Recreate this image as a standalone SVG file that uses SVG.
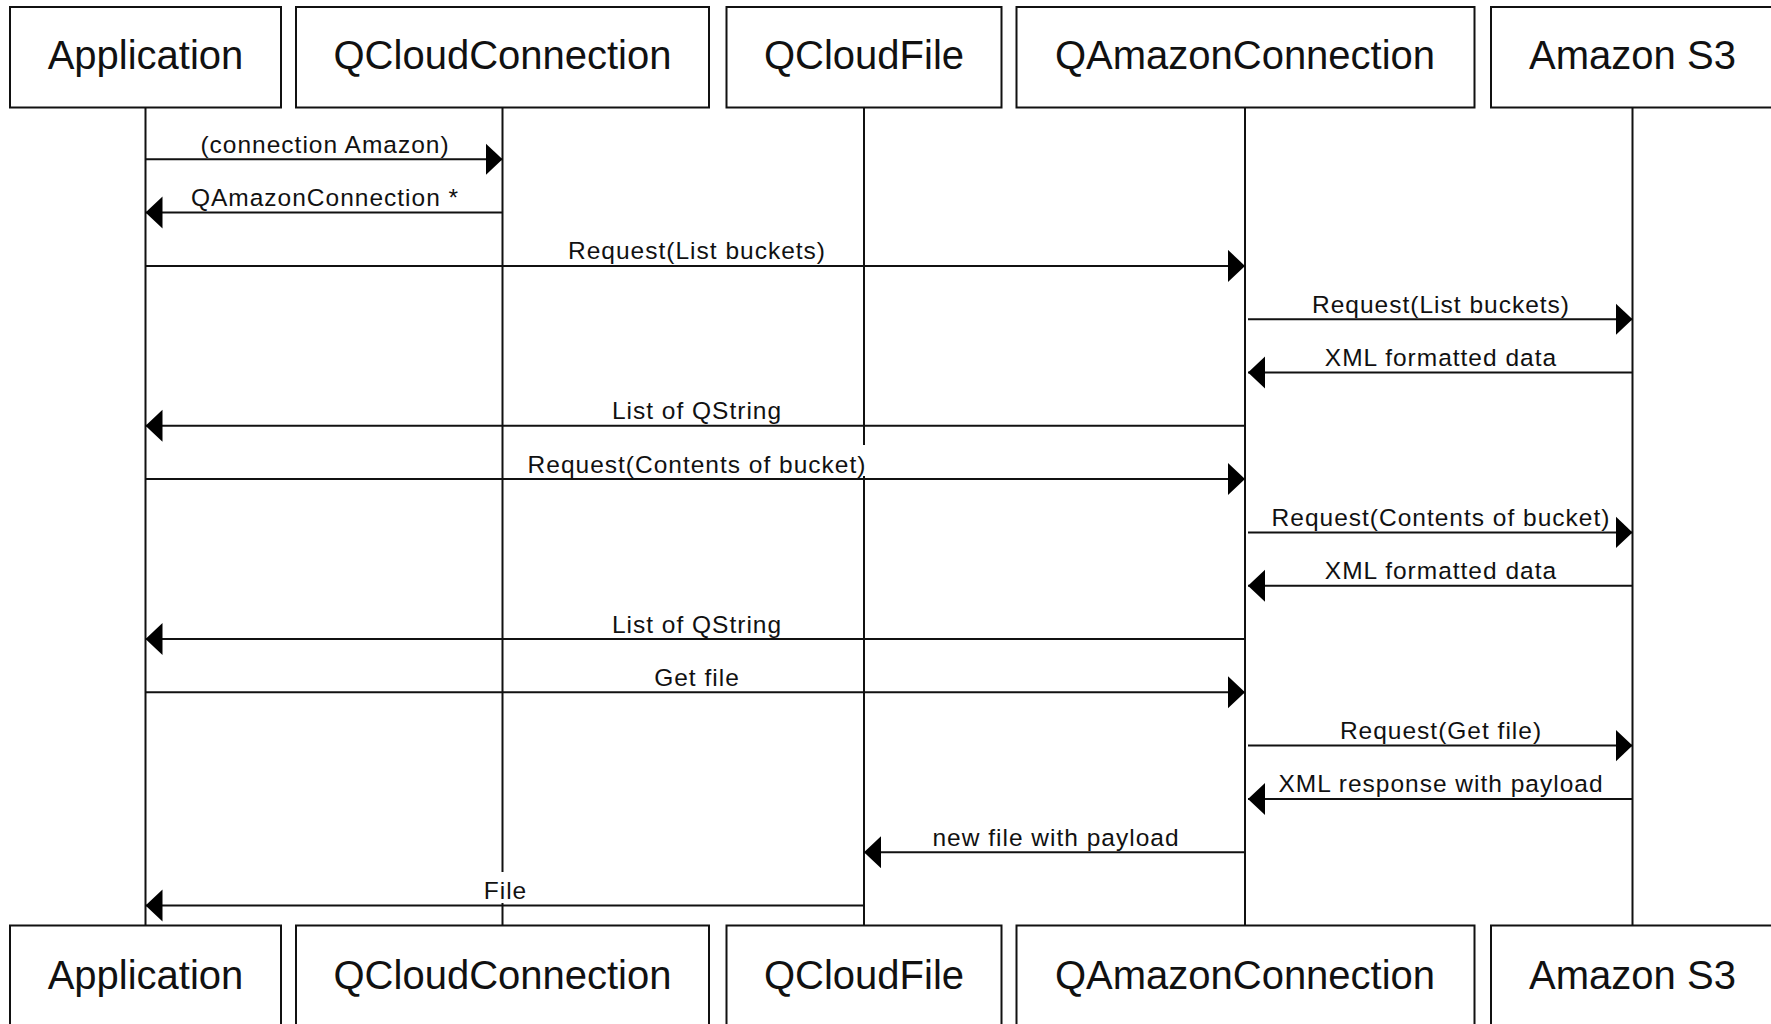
<svg xmlns="http://www.w3.org/2000/svg" width="1771" height="1024" viewBox="0 0 1771 1024">
<style>
.box{fill:#fff;stroke:#111;stroke-width:2}
.life{stroke:#111;stroke-width:2;fill:none}
.msg{stroke:#111;stroke-width:2;fill:none;marker-end:url(#ah)}
.title{font-family:"Liberation Sans",Arial,sans-serif;font-size:40px;fill:#111;text-anchor:middle}
.lbl{font-family:"Liberation Sans",Arial,sans-serif;font-size:24.5px;letter-spacing:1px;fill:#111;text-anchor:middle}
.bg{fill:#fff}
</style>
<defs>
<marker id="ah" markerUnits="userSpaceOnUse" markerWidth="18" markerHeight="34" refX="17" refY="16" orient="auto">
<path d="M0,0 L17,16 L0,32 z" fill="#000"/>
</marker>
</defs>
<rect width="1771" height="1024" fill="#fff"/>
<g id="application">
<line class="life" x1="145.5" y1="107.5" x2="145.5" y2="925.5"/>
<rect class="box" x="10" y="7" width="271" height="100.5"/>
<text class="title" x="145.5" y="69">Application</text>
<rect class="box" x="10" y="925.5" width="271" height="100.5"/>
<text class="title" x="145.5" y="988.5">Application</text>
</g>
<g id="qcloudconnection">
<line class="life" x1="502.5" y1="107.5" x2="502.5" y2="925.5"/>
<rect class="box" x="296" y="7" width="413" height="100.5"/>
<text class="title" x="502.5" y="69">QCloudConnection</text>
<rect class="box" x="296" y="925.5" width="413" height="100.5"/>
<text class="title" x="502.5" y="988.5">QCloudConnection</text>
</g>
<g id="qcloudfile">
<line class="life" x1="864" y1="107.5" x2="864" y2="925.5"/>
<rect class="box" x="726.5" y="7" width="275" height="100.5"/>
<text class="title" x="864" y="69">QCloudFile</text>
<rect class="box" x="726.5" y="925.5" width="275" height="100.5"/>
<text class="title" x="864" y="988.5">QCloudFile</text>
</g>
<g id="qamazonconnection">
<line class="life" x1="1245" y1="107.5" x2="1245" y2="925.5"/>
<rect class="box" x="1016.5" y="7" width="458" height="100.5"/>
<text class="title" x="1245" y="69">QAmazonConnection</text>
<rect class="box" x="1016.5" y="925.5" width="458" height="100.5"/>
<text class="title" x="1245" y="988.5">QAmazonConnection</text>
</g>
<g id="amazons3">
<line class="life" x1="1632.5" y1="107.5" x2="1632.5" y2="925.5"/>
<rect class="box" x="1491" y="7" width="284" height="100.5"/>
<text class="title" x="1632.5" y="69">Amazon S3</text>
<rect class="box" x="1491" y="925.5" width="284" height="100.5"/>
<text class="title" x="1632.5" y="988.5">Amazon S3</text>
</g>
<g id="connectors">
<line class="msg" x1="145.5" y1="159.3" x2="502.5" y2="159.3"/>
<text class="lbl" x="325" y="152.8">(connection Amazon)</text>

<line class="msg" x1="502.5" y1="212.6" x2="145.5" y2="212.6"/>
<text class="lbl" x="325" y="206.1">QAmazonConnection *</text>

<line class="msg" x1="145.5" y1="265.9" x2="1245" y2="265.9"/>
<text class="lbl" x="697" y="259.4">Request(List buckets)</text>

<line class="msg" x1="1248" y1="319.2" x2="1632.5" y2="319.2"/>
<text class="lbl" x="1441" y="312.7">Request(List buckets)</text>

<line class="msg" x1="1632.5" y1="372.5" x2="1248" y2="372.5"/>
<text class="lbl" x="1441" y="366">XML formatted data</text>

<line class="msg" x1="1245" y1="425.8" x2="145.5" y2="425.8"/>
<text class="lbl" x="697" y="419.3">List of QString</text>

<line class="msg" x1="145.5" y1="479.1" x2="1245" y2="479.1"/>
<rect class="bg" x="526" y="445" width="343" height="31"/>
<text class="lbl" x="697" y="472.6">Request(Contents of bucket)</text>

<line class="msg" x1="1248" y1="532.4" x2="1632.5" y2="532.4"/>
<text class="lbl" x="1441" y="525.9">Request(Contents of bucket)</text>

<line class="msg" x1="1632.5" y1="585.7" x2="1248" y2="585.7"/>
<text class="lbl" x="1441" y="579.2">XML formatted data</text>

<line class="msg" x1="1245" y1="639" x2="145.5" y2="639"/>
<text class="lbl" x="697" y="632.5">List of QString</text>

<line class="msg" x1="145.5" y1="692.3" x2="1245" y2="692.3"/>
<text class="lbl" x="697" y="685.8">Get file</text>

<line class="msg" x1="1248" y1="745.6" x2="1632.5" y2="745.6"/>
<text class="lbl" x="1441" y="739.1">Request(Get file)</text>

<line class="msg" x1="1632.5" y1="798.9" x2="1248" y2="798.9"/>
<text class="lbl" x="1441" y="792.4">XML response with payload</text>

<line class="msg" x1="1245" y1="852.2" x2="864" y2="852.2"/>
<text class="lbl" x="1056" y="845.7">new file with payload</text>

<line class="msg" x1="864" y1="905.5" x2="145.5" y2="905.5"/>
<rect class="bg" x="481" y="872" width="48" height="31"/>
<text class="lbl" x="505.5" y="899">File</text>
</g>
</svg>
